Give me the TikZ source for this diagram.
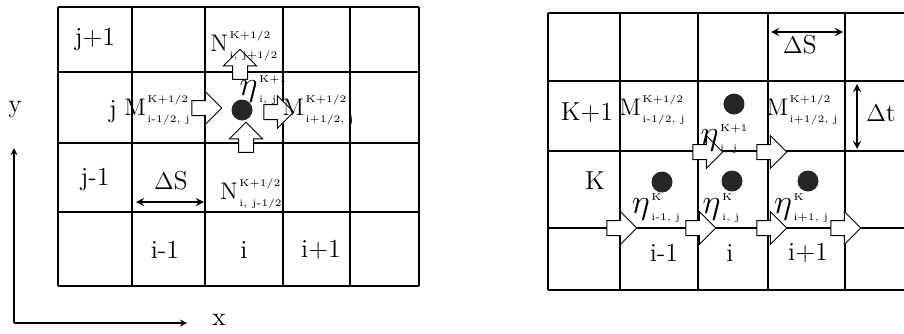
\documentclass[tikz,border=0pt]{standalone}
\usetikzlibrary{shapes.arrows}
% symbol with stacked upper and lower indices
\newcommand{\fluxlab}[4]{#1\kern0.8pt\raisebox{-3.5pt}{\fontsize{5}{#4}\selectfont
    \begin{tabular}[b]{@{}l@{}}#2\\#3\end{tabular}}}
\newcommand{\bigeta}{{\fontsize{16}{18}\selectfont$\eta$}}

\begin{document}
\begin{tikzpicture}[
    x=0.5pt, y=-0.5pt,
    every node/.style={inner sep=1pt},
    lbl/.style={font=\fontsize{13}{15}\selectfont},
    flux/.style={font=\fontsize{12}{14}\selectfont, inner sep=0pt},
    blockarrow/.style={draw, fill=white, single arrow, single arrow head extend=4.5pt,
        minimum height=15pt, inner xsep=0pt, inner ysep=3.5pt, line width=0.5pt},
    dot/.style={circle, fill=black!85, minimum size=10.5pt, inner sep=0pt},
    dim/.style={<->, >=stealth, thick},
    axis/.style={->, >=stealth, semithick}
]
\useasboundingbox (0,0) rectangle (904,333);

% left grid (space)
\foreach \x in {58,132,205,283,350,419} \draw[thick] (\x,7) -- (\x,286);
\foreach \y in {7,72,143,212,286} \draw[thick] (58,\y) -- (419,\y);

% right grid (time)
\foreach \x in {548,620,698,768,845} \draw[thick] (\x,13) -- (\x,290);
\foreach \y in {13,81,151,228,290} \draw[thick] (548,\y) -- (904,\y);

% axes
\coordinate (O) at (14,323);
\coordinate (Ytip) at (14,148);
\coordinate (Xtip) at (187,323);
\draw[axis] (O) -- (Ytip);
\draw[axis] (O) -- (Xtip);
\node[lbl] (ylab) at (15,110) {y};
\node[lbl] (xlab) at (219,320) {x};

% left: row and column indices
\node[lbl] (jp) at (95,40) {j+1};
\node[lbl] (j) at (113,112) {j};
\node[lbl] (jm) at (95,180) {j-1};
\node[lbl] (lim) at (165,250) {i-1};
\node[lbl] (li) at (244,250) {i};
\node[lbl] (lip) at (321,250) {i+1};

% left: mesh size
\coordinate (dsA) at (136,202);
\coordinate (dsB) at (204,202);
\draw[dim] (dsA) -- (dsB);
\node[lbl] (ds) at (171,181) {$\Delta$S};

% left: fluxes around cell (i,j)
\node[blockarrow, rotate=90] (up1) at (240,68) {};
\node[blockarrow, rotate=90] (up2) at (246,141) {};
\node[blockarrow] (rt1) at (203,108) {};
\node[blockarrow] (rt2) at (275,112) {};
\node[dot] (eta) at (242,110) {};
\node[flux] (etalab) at (263,88) {\fluxlab{\bigeta}{K+1}{i, j}{10}};
\node[flux] (Ntop) at (244,44) {\fluxlab{N}{K+1/2}{i, j+1/2}{10}};
\node[flux] (Nbot) at (251,192) {\fluxlab{N}{K+1/2}{i, j-1/2}{10}};
\node[flux] (Mleft) at (157,108) {\fluxlab{M}{K+1/2}{i-1/2, j}{10}};
\node[flux] (Mright) at (318,108) {\fluxlab{M}{K+1/2}{i+1/2, j}{10}};

% right: time levels and columns
\node[lbl] (kp) at (587,113) {K+1};
\node[lbl] (k) at (595,181) {K};
\node[lbl] (rim) at (664,253) {i-1};
\node[lbl] (ri) at (730,253) {i};
\node[lbl] (rip) at (808,253) {i+1};

% right: mesh size and time step
\coordinate (rsA) at (771,32);
\coordinate (rsB) at (843,32);
\draw[dim] (rsA) -- (rsB);
\node[lbl] (rds) at (800,45) {$\Delta$S};
\coordinate (dtA) at (857,84);
\coordinate (dtB) at (857,149);
\draw[dim] (dtA) -- (dtB);
\node[lbl] (dt) at (881,113) {$\Delta$t};

% right: water levels and fluxes
\node[blockarrow] (ra1) at (704,152) {};
\node[blockarrow] (ra2) at (768,152) {};
\node[blockarrow] (rb1) at (618,228) {};
\node[blockarrow] (rb2) at (697,228) {};
\node[blockarrow] (rb3) at (768,228) {};
\node[blockarrow] (rb4) at (842,228) {};
\node[dot] (e1) at (734,104) {};
\node[dot] (e2) at (662,182) {};
\node[dot] (e3) at (732,181) {};
\node[dot] (e4) at (808,181) {};
\node[flux] (rM1) at (652,108) {\fluxlab{M}{K+1/2}{i-1/2, j}{10}};
\node[flux] (rM2) at (802,108) {\fluxlab{M}{K+1/2}{i+1/2, j}{10}};
\node[flux] (re1) at (724,137) {\fluxlab{\bigeta}{K+1}{i, j}{10}};
\node[flux] (re2) at (656,206) {\fluxlab{\bigeta}{K}{i-1, j}{10}};
\node[flux] (re3) at (721,206) {\fluxlab{\bigeta}{K}{i, j}{10}};
\node[flux] (re4) at (801,206) {\fluxlab{\bigeta}{K}{i+1, j}{10}};

\end{tikzpicture}
\end{document}
